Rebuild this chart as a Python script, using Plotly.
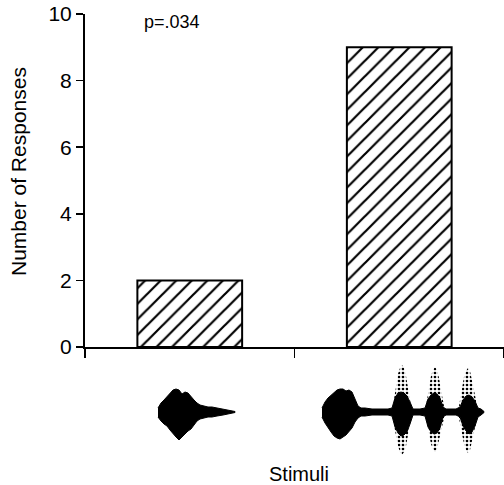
import plotly.graph_objects as go

# ---- data ----
categories = [0, 1]                 # two stimuli (positions on category axis)
responses = [2, 9]                  # Number of Responses
y_ticks = [0, 2, 4, 6, 8, 10]
p_label = "p=.034"

# waveform envelopes (time units, amplitude above / below baseline)
w1_t = [158, 161, 164, 167, 170, 173, 176, 179, 182, 185, 188, 191, 194, 197, 200, 204, 208, 212, 217, 223, 229, 235]
w1_up = [4, 9, 12, 15, 18, 22, 23, 22, 18, 20, 19, 15, 12, 9, 7, 6, 5, 5, 4, 3, 2, 0.5]
w1_dn = [5, 9, 12, 14, 18, 22, 25, 28, 26, 22, 19, 17, 13, 9, 7, 6, 5, 5, 4, 3, 2, 0.5]

w2_t = [322, 325, 328, 331, 334, 337, 340, 343, 346, 349, 352, 355, 358, 361, 365, 372, 380, 388, 392,
        395, 398, 401, 404, 407, 410, 413, 416, 420, 425, 428, 431, 434, 437, 440, 443, 446,
        450, 456, 460, 463, 466, 469, 472, 475, 478, 481, 484]
w2_up = [4, 10, 14, 17, 20, 22, 23, 23, 21, 22, 20, 12, 6, 4, 4, 3, 3, 3, 4,
         14, 19, 20, 19, 16, 10, 3, 3, 3, 4, 13, 17, 19, 18, 14, 5, 3,
         3, 3, 5, 12, 16, 17, 15, 11, 4, 3, 0.5]
w2_dn = [5, 11, 16, 20, 24, 26, 27, 25, 23, 20, 16, 10, 6, 4, 4, 3, 3, 3, 4,
         15, 21, 24, 23, 20, 12, 3, 3, 3, 4, 15, 20, 22, 21, 16, 5, 3,
         3, 3, 5, 14, 19, 22, 20, 14, 5, 3, 0.5]

b1_t = [393, 396, 398, 400, 402, 404, 406, 408, 411]
b1_up = [6, 26, 38, 44, 47, 44, 36, 24, 6]
b1_dn = [6, 24, 34, 40, 43, 40, 34, 22, 6]
b2_t = [426, 429, 431, 433, 435, 437, 439, 441, 444]
b2_up = [6, 24, 36, 42, 45, 42, 34, 22, 6]
b2_dn = [6, 22, 32, 37, 40, 37, 30, 20, 6]
b3_t = [459, 462, 464, 466, 468, 470, 472, 474, 477]
b3_up = [6, 24, 35, 41, 44, 41, 33, 22, 6]
b3_dn = [6, 22, 32, 38, 41, 38, 30, 20, 6]

FONT = "Liberation Sans, Arial, Helvetica, sans-serif"

FIG_W, FIG_H = 504, 485
PL, PT, PB = 85, 14, 25
PW = FIG_W - PL
PH = FIG_H - PT - PB


def px_x(X):
    return (X - PL) / PW


def px_y(Y):
    return (FIG_H - PB - Y) / PH


fig = go.Figure()

fig.add_trace(go.Bar(
    x=categories, y=responses, width=0.5,
    marker=dict(color="white", line=dict(color="black", width=2),
                pattern=dict(shape="/", size=11, solidity=0.2, fgopacity=1,
                             fgcolor="black", bgcolor="white")),
    showlegend=False, hoverinfo="skip",
))


def envelope(t, up, dn):
    xs = list(t) + list(reversed(t))
    ys = list(up) + [-v for v in reversed(dn)]
    return xs, ys


# dotted outer bursts
for bt, bu, bd in [(b1_t, b1_up, b1_dn), (b2_t, b2_up, b2_dn), (b3_t, b3_up, b3_dn)]:
    xs, ys = envelope(bt, bu, bd)
    fig.add_trace(go.Scatter(
        x=xs, y=ys, xaxis="x2", yaxis="y2", mode="lines", fill="toself",
        line=dict(width=0, color="rgba(0,0,0,0)"),
        fillcolor="rgba(0,0,0,0)",
        fillpattern=dict(shape=".", size=4, solidity=0.35, fgcolor="black",
                         fgopacity=1, bgcolor="rgba(0,0,0,0)"),
        showlegend=False, hoverinfo="skip",
    ))

for wt, wu, wd in [(w1_t, w1_up, w1_dn), (w2_t, w2_up, w2_dn)]:
    xs, ys = envelope(wt, wu, wd)
    fig.add_trace(go.Scatter(
        x=xs, y=ys, xaxis="x2", yaxis="y2", mode="lines", fill="toself",
        line=dict(width=1, color="black"), fillcolor="black",
        showlegend=False, hoverinfo="skip",
    ))

y_split = px_y(347)

fig.update_layout(
    width=FIG_W, height=FIG_H,
    margin=dict(l=PL, r=0, t=PT, b=PB, autoexpand=False),
    paper_bgcolor="white", plot_bgcolor="white",
    font=dict(family=FONT, color="black"),
    bargap=0,
    xaxis=dict(range=[-0.5, 1.5], domain=[0, 1], anchor="y",
               tickvals=[-0.5, 0.5, 1.5], showticklabels=False,
               ticks="outside", ticklen=9, tickwidth=1.5, tickcolor="black",
               showline=True, linecolor="black", linewidth=1.5,
               showgrid=False, zeroline=False, fixedrange=True),
    yaxis=dict(range=[0, 10], domain=[y_split, 1], anchor="x",
               tickvals=y_ticks, ticktext=[str(v) for v in y_ticks],
               ticks="outside", ticklen=7, tickwidth=1.5, tickcolor="black",
               tickfont=dict(size=21, family=FONT, color="black"),
               showline=True, linecolor="black", linewidth=2,
               showgrid=False, zeroline=False, fixedrange=True),
    xaxis2=dict(range=[PL, PL + PW], domain=[0, 1], anchor="y2", visible=False,
                fixedrange=True),
    yaxis2=dict(range=[-48, -48 + (FIG_H - PB - 347)], domain=[0, y_split], anchor="x2",
                visible=False, fixedrange=True),
    annotations=[
        dict(text="Number of Responses", textangle=-90, xref="paper", yref="paper",
             x=px_x(18), y=px_y(172), xanchor="center", yanchor="middle",
             showarrow=False, font=dict(size=21, family=FONT, color="black")),
        dict(text="Stimuli", xref="paper", yref="paper",
             x=px_x(299), y=px_y(474), xanchor="center", yanchor="middle",
             showarrow=False, font=dict(size=20, family=FONT, color="black")),
        dict(text=p_label, xref="paper", yref="paper",
             x=px_x(142), y=px_y(22), xanchor="left", yanchor="middle",
             showarrow=False, font=dict(size=18, family=FONT, color="black")),
    ],
)

fig.write_html(
    "out.html",
    config={"displayModeBar": False, "staticPlot": True},
    post_script="document.body.style.margin='0';document.body.style.overflow='hidden';",
)
